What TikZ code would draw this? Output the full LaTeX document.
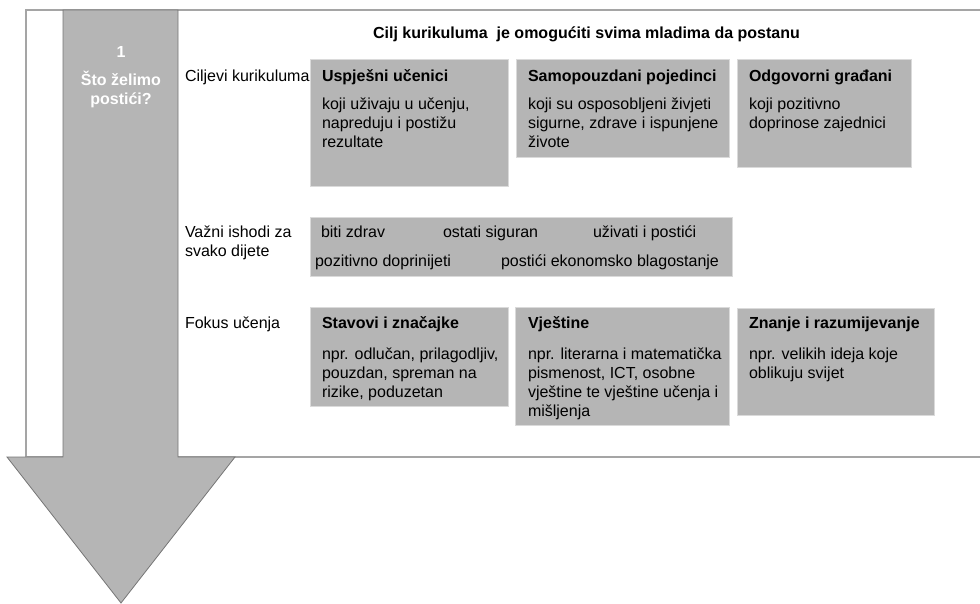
\documentclass[tikz,border=0pt]{standalone}
\usepackage{fontspec}
\setmainfont{Liberation Sans}
\definecolor{boxgray}{RGB}{181,181,181}
\definecolor{boxedge}{RGB}{218,218,218}
\definecolor{arrowedge}{RGB}{118,118,118}
\definecolor{framegray}{RGB}{165,165,165}
% several lines set flush left, with the baseline on the first line
\newcommand{\txtlines}[1]{\begin{tabular}[t]{@{}l@{}}#1\end{tabular}}
\begin{document}
\begin{tikzpicture}[x=1pt,y=-1pt,
  every node/.style={inner sep=0pt,outer sep=0pt},
  txt/.style={font=\fontsize{16}{19}\selectfont,anchor=base west,text=black},
  hdr/.style={txt,font=\fontsize{16}{19}\selectfont\bfseries},
  arrowtxt/.style={font=\fontsize{16}{19}\selectfont\bfseries,anchor=base,text=white},
  gbox/.style={draw=boxedge,fill=boxgray,line width=0.8pt,anchor=north west},
  framestyle/.style={draw=framegray,line width=1.3pt},
  arrowstyle/.style={draw=arrowedge,fill=boxgray,line width=0.8pt,line join=miter}]
\useasboundingbox (0,0) rectangle (980,603);

% open frame round the content
\coordinate (ftr) at (980,10);
\coordinate (ftl) at (26,10);
\coordinate (fbl) at (26,457);
\coordinate (fbr) at (980,457);
\draw[framestyle] (ftr) -- (ftl) -- (fbl) -- (fbr);

% big downward arrow
\draw[arrowstyle] (63,10) -- (178,10) -- (178,457) -- (235,457) -- (121,603)
  -- (7,457) -- (63,457) -- cycle;
\node[arrowtxt] (num) at (121,57) {1};
\node[arrowtxt] (q1) at (121,85) {Što želimo};
\node[arrowtxt] (q2) at (121,104) {postići?};

% title
\node[hdr,anchor=base] (title) at (586.5,38) {Cilj kurikuluma\ \ je omogućiti svima mladima da postanu};

% row 1: curriculum aims
\node[txt] (lab1) at (185,81) {Ciljevi kurikuluma};
\node[gbox,minimum width=198,minimum height=127] (b1) at (310,59) {};
\node[gbox,minimum width=213,minimum height=98] (b2) at (516,59) {};
\node[gbox,minimum width=174,minimum height=108] (b3) at (737,59) {};
\node[hdr] (h1) at (322,81) {Uspješni učenici};
\node[txt] (t1) at (322,109) {\txtlines{koji uživaju u učenju,\\ napreduju i postižu\\ rezultate}};
\node[hdr] (h2) at (528,81) {Samopouzdani pojedinci};
\node[txt] (t2) at (528,109) {\txtlines{koji su osposobljeni živjeti\\ sigurne, zdrave i ispunjene\\ živote}};
\node[hdr] (h3) at (749,81) {Odgovorni građani};
\node[txt] (t3) at (749,109) {\txtlines{koji pozitivno\\ doprinose zajednici}};

% row 2: outcomes for every child
\node[txt] (lab2) at (185,237) {\txtlines{Važni ishodi za\\ svako dijete}};
\node[gbox,minimum width=422,minimum height=59] (m) at (310,217) {};
\node[txt] (o1) at (321,237) {biti zdrav};
\node[txt] (o2) at (443,237) {ostati siguran};
\node[txt] (o3) at (593,237) {uživati i postići};
\node[txt] (o4) at (315,266) {pozitivno doprinijeti};
\node[txt] (o5) at (501,266) {postići ekonomsko blagostanje};

% row 3: learning focus
\node[txt] (lab3) at (185,328) {Fokus učenja};
\node[gbox,minimum width=198,minimum height=99] (c1) at (310,307) {};
\node[gbox,minimum width=214,minimum height=118] (c2) at (515,307) {};
\node[gbox,minimum width=197,minimum height=107] (c3) at (737,308) {};
\node[hdr] (h4) at (322,328) {Stavovi i značajke};
\node[txt] (t4) at (322,359) {\txtlines{npr. odlučan, prilagodljiv,\\ pouzdan, spreman na\\ rizike, poduzetan}};
\node[hdr] (h5) at (528,328) {Vještine};
\node[txt] (t5) at (528,359) {\txtlines{npr. literarna i matematička\\ pismenost, ICT, osobne\\ vještine te vještine učenja i\\ mišljenja}};
\node[hdr] (h6) at (749,328) {Znanje i razumijevanje};
\node[txt] (t6) at (749,359) {\txtlines{npr. velikih ideja koje\\ oblikuju svijet}};
\end{tikzpicture}
\end{document}
